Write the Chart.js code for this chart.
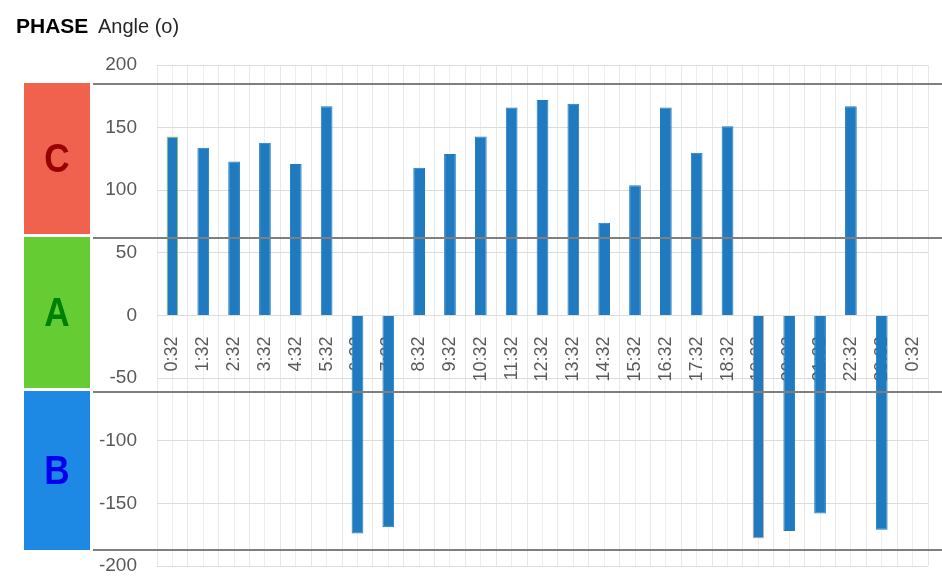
<!DOCTYPE html>
<html><head><meta charset="utf-8">
<script src="https://cdn.jsdelivr.net/npm/chart.js@4.4.1/dist/chart.umd.min.js"></script>
<style>html,body{margin:0;padding:0;background:#fff}#wrap{width:942px;height:585px;position:relative}</style>
</head><body><div id="wrap"><canvas id="c" width="942" height="585"></canvas></div>
<script>
const categories = ['0:32','1:32','2:32','3:32','4:32','5:32','6:32','7:32','8:32','9:32','10:32','11:32','12:32','13:32','14:32','15:32','16:32','17:32','18:32','19:32','20:32','21:32','22:32','23:32','0:32'];
const angles = [143,134,123,138,121,167,-174,-169,118,129,143,166,172,169,74,104,166,130,151,-178,-172,-158,167,-171,null];
const yTickValues = [200,150,100,50,0,-50,-100,-150,-200];
const phaseNames = ['C','A','B'];
const phaseFills = ['#F0614E','#66CC33','#1E88E5'];
const phaseLetterColors = ['#990000','#008000','#0000EE'];
const phaseBounds = [185, 62, -61, -187];
const titleBold = 'PHASE';
const titleText = 'Angle (o)';

const barColor = '#1F7AC0';
const borderColors = angles.map((v,i)=> i===0 ? '#A8D04A' : (i===19 ? '#F4B183' : barColor));

function noPad(s){ s.paddingLeft = 0; s.paddingRight = 0; s.paddingTop = 0; s.paddingBottom = 0; }

const overlay = {
  id:'overlay',
  afterDraw(chart){
    const ctx = chart.ctx, y = chart.scales.y;
    ctx.save();
    ctx.textBaseline = 'alphabetic';
    ctx.fillStyle = '#000';
    ctx.font = 'bold 21px "Liberation Sans", Arial, sans-serif';
    ctx.fillText(titleBold, 16, 33);
    ctx.fillStyle = '#262626';
    ctx.font = '20px "Liberation Sans", Arial, sans-serif';
    ctx.fillText(titleText, 98, 33);
    const px = phaseBounds.map(v => Math.round(y.getPixelForValue(v)));
    ctx.strokeStyle = '#7f7f7f';
    ctx.lineWidth = 2;
    px.forEach(p => { ctx.beginPath(); ctx.moveTo(93, p); ctx.lineTo(942, p); ctx.stroke(); });
    for (let i=0;i<3;i++){
      const top = px[i] - 1, bot = (i===2) ? px[i+1] : px[i+1] - 4;
      ctx.fillStyle = phaseFills[i];
      ctx.fillRect(24, top, 66, bot-top);
      ctx.save();
      ctx.translate(57, (top+bot)/2);
      ctx.scale(0.88, 1);
      ctx.fillStyle = phaseLetterColors[i];
      ctx.font = 'bold 40px "Liberation Sans", Arial, sans-serif';
      ctx.textAlign = 'center';
      ctx.textBaseline = 'middle';
      ctx.fillText(phaseNames[i], 0, 2);
      ctx.restore();
    }
    ctx.restore();
  }
};

new Chart(document.getElementById('c'), {
  type:'bar',
  data:{
    labels: categories,
    datasets:[{
      data: angles,
      backgroundColor: barColor,
      borderColor: borderColors,
      borderWidth: 1,
      barPercentage: 0.38,
      categoryPercentage: 1
    }]
  },
  options:{
    responsive:false,
    animation:false,
    devicePixelRatio:1,
    layout:{padding:{left:0, top:65, right:14, bottom:19}},
    plugins:{legend:{display:false}, tooltip:{enabled:false}},
    scales:{
      x:{
        type:'category',
        position:{y:0},
        z:1,
        afterFit(s){ noPad(s); },
        grid:{display:false},
        border:{display:false},
        ticks:{
          autoSkip:false, minRotation:90, maxRotation:90,
          color:'#595959', padding:13,
          font:{family:'"Liberation Sans", Arial, sans-serif', size:18}
        }
      },
      xg1:{
        type:'category', position:'bottom', offset:true,
        afterFit(s){ noPad(s); s.height = 0; },
        grid:{offset:true, color:'#e8e8e8', drawTicks:false},
        ticks:{display:false}, border:{display:false}
      },
      xg2:{
        type:'category', position:'bottom', offset:true,
        afterFit(s){ noPad(s); s.height = 0; },
        grid:{offset:false, color:'#eeeeee', drawTicks:false},
        ticks:{display:false}, border:{display:false}
      },
      y:{
        min:-200, max:200,
        afterFit(s){ noPad(s); s.width = 157; },
        afterBuildTicks(s){ s.ticks = yTickValues.map(v=>({value:v})); },
        grid:{color:'#dcdcdc', drawTicks:false},
        border:{display:false},
        ticks:{
          color:'#595959', padding:20,
          font:{family:'"Liberation Sans", Arial, sans-serif', size:19}
        }
      }
    }
  },
  plugins:[overlay]
});
</script></body></html>
